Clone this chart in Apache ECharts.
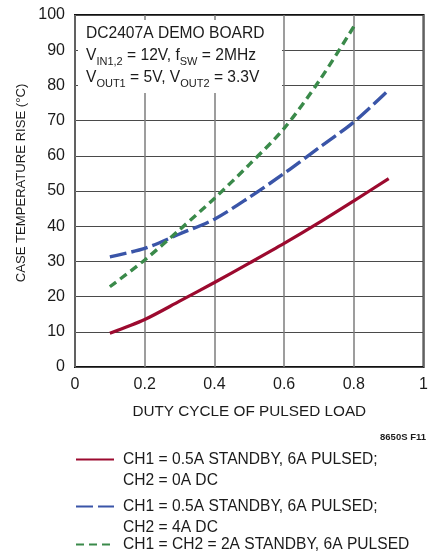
<!DOCTYPE html>
<html>
<head>
<meta charset="utf-8">
<script src="https://cdn.jsdelivr.net/npm/echarts@6/dist/echarts.min.js"></script>
<style>
  html, body { margin: 0; padding: 0; background: #fff; }
  #chart { width: 431px; height: 556px; }
</style>
</head>
<body>
<div id="chart"></div>
<script>
// Case temperature rise vs duty cycle of the pulsed load
const dutyCycle = [0.1, 0.2, 0.3, 0.4, 0.5, 0.6, 0.7, 0.8, 0.9];
const riseCh2Off = [9.6, 13.5, 18.7, 24.0, 29.5, 35.1, 41.0, 47.2, 53.5];
const riseCh2Dc4A = [31.3, 33.7, 37.8, 42.0, 48.2, 55.0, 62.3, 69.6, 78.7];
const riseBoth2A = [22.8, 30.4, 39.0, 47.9, 57.5, 67.8, 81.2, 96.7];

const seriesNames = [
  'CH1 = 0.5A STANDBY, 6A PULSED;\nCH2 = 0A DC',
  'CH1 = 0.5A STANDBY, 6A PULSED;\nCH2 = 4A DC',
  'CH1 = CH2 = 2A STANDBY, 6A PULSED'
];

const FONT = '"Liberation Sans", Arial, Helvetica, sans-serif';
const INK = '#1b1b1b';

function pairs(values) {
  return values.map((v, i) => [dutyCycle[i], v]);
}

const chart = echarts.init(document.getElementById('chart'), null, { renderer: 'canvas' });

// One legend block per series so each swatch sits level with the first text line
function legendFor(name, top, twoLines) {
  return {
    data: [name],
    orient: 'vertical',
    left: 75,
    top: top,
    padding: 0,
    itemWidth: 38,
    itemHeight: 14,
    selectedMode: false,
    itemStyle: { opacity: 0 },
    formatter: twoLines ? (n) => '\n' + n : (n) => n,
    textStyle: {
      fontFamily: FONT,
      fontSize: 15.6,
      lineHeight: 21,
      color: INK,
      padding: [0, 0, 0, 4]
    }
  };
}

const option = {
  animation: false,
  backgroundColor: '#fff',
  grid: {
    left: 75, right: 4, top: 15, bottom: 189,
    show: true,
    borderColor: '#111',
    borderWidth: 2,
    backgroundColor: 'transparent'
  },
  xAxis: {
    type: 'value',
    min: 0, max: 1, interval: 0.2,
    name: 'DUTY CYCLE OF PULSED LOAD',
    nameLocation: 'middle',
    nameGap: 37,
    nameTextStyle: { fontFamily: FONT, fontSize: 15.3, color: INK },
    axisLine: { show: false },
    axisTick: { show: false },
    axisLabel: { fontFamily: FONT, fontSize: 16, color: INK, margin: 10 },
    splitLine: { show: true, lineStyle: { color: '#7d7d7d', width: 1.5 } }
  },
  yAxis: {
    type: 'value',
    min: 0, max: 100, interval: 10,
    name: 'CASE TEMPERATURE RISE (°C)',
    nameLocation: 'middle',
    nameGap: 45,
    nameTextStyle: { fontFamily: FONT, fontSize: 13.1, color: INK, padding: [0, 0, 0, 16] },
    axisLine: { show: false },
    axisTick: { show: false },
    axisLabel: { fontFamily: FONT, fontSize: 16, color: INK, margin: 10 },
    splitLine: { show: true, lineStyle: { color: '#4a4a4a', width: 1 } }
  },
  legend: [
    legendFor(seriesNames[0], 428, true),
    legendFor(seriesNames[1], 475, true),
    legendFor(seriesNames[2], 534, false)
  ],
  graphic: [
    {
      type: 'rect',
      z: 1,
      shape: { x: 78, y: 20, width: 204, height: 73 },
      style: { fill: '#fff' }
    },
    {
      type: 'text',
      z: 1,
      x: 86, y: 23,
      style: {
        text: '{n|DC2407A DEMO BOARD}\n' +
              '{n|V}{s|IN1,2}{n| = 12V, f}{s|SW}{n| = 2MHz}\n' +
              '{n|V}{s|OUT1}{n| = 5V, V}{s|OUT2}{n| = 3.3V}',
        verticalAlign: 'top',
        rich: {
          n: { fontFamily: FONT, fontSize: 15.6, lineHeight: 22, fill: INK, color: INK },
          s: { fontFamily: FONT, fontSize: 11, lineHeight: 12, verticalAlign: 'bottom', fill: INK, color: INK }
        }
      }
    },
    {
      type: 'text',
      z: 1,
      right: 5, top: 432,
      style: {
        text: '8650S F11',
        font: 'bold 9.5px ' + FONT,
        fill: INK
      }
    }
  ],
  series: [
    {
      name: seriesNames[0],
      type: 'line',
      data: pairs(riseCh2Off),
      smooth: 0.3,
      showSymbol: false,
      color: '#9c0a2f',
      lineStyle: { color: '#9c0a2f', width: 3.2, type: 'solid' }
    },
    {
      name: seriesNames[1],
      type: 'line',
      data: pairs(riseCh2Dc4A),
      smooth: 0.3,
      showSymbol: false,
      color: '#3a55a8',
      lineStyle: { color: '#3a55a8', width: 3.4, type: [17, 5] }
    },
    {
      name: seriesNames[2],
      type: 'line',
      data: pairs(riseBoth2A),
      smooth: 0.3,
      showSymbol: false,
      color: '#3a8a4a',
      lineStyle: { color: '#3a8a4a', width: 3.4, type: [8, 5] }
    }
  ]
};

chart.setOption(option);
</script>
</body>
</html>
